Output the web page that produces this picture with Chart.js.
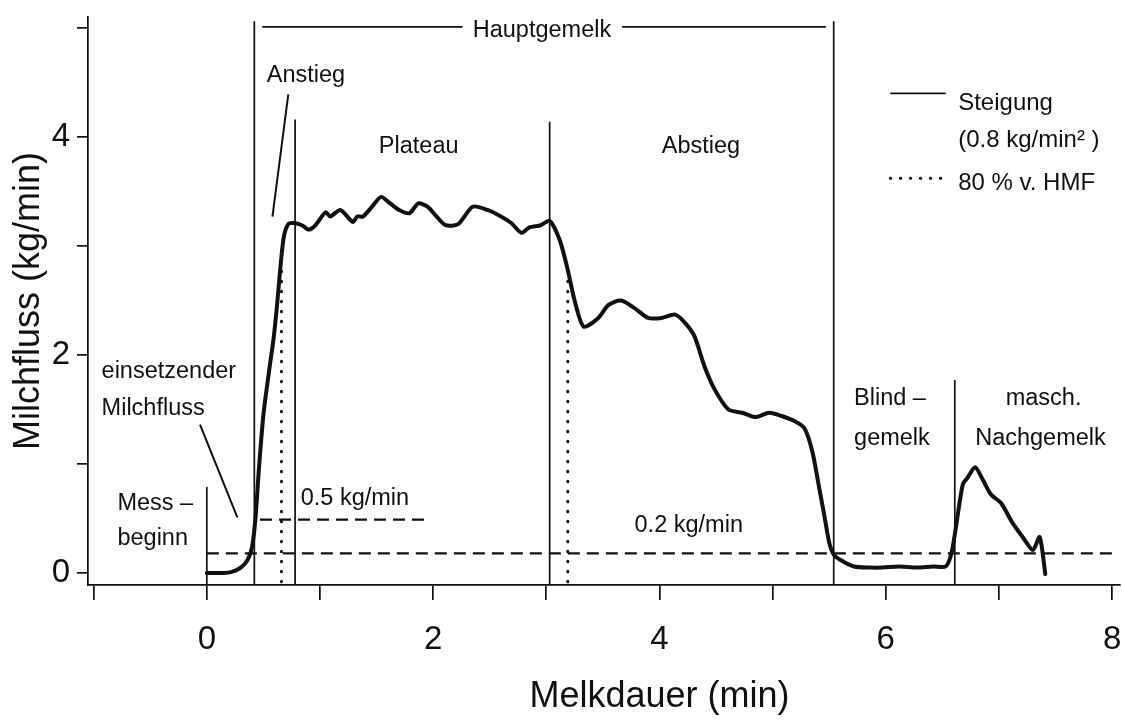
<!DOCTYPE html>
<html>
<head>
<meta charset="utf-8">
<title>Milchflusskurve</title>
<script src="https://cdn.jsdelivr.net/npm/chart.js@4.4.1/dist/chart.umd.min.js"></script>
<style>
  html, body { margin: 0; padding: 0; background: #fff; }
  #wrap { width: 1122px; height: 720px; }
</style>
</head>
<body>
<div id="wrap"><canvas id="flowChart" width="1122" height="720"></canvas></div>
<script>
// Milk flow curve (min, kg/min)
const flowTime = [0.00, 0.15, 0.22, 0.30, 0.36, 0.40, 0.43, 0.46, 0.50, 0.55, 0.59, 0.62, 0.65, 0.68, 0.72, 0.77,
  0.84, 0.90, 0.96, 1.05, 1.09, 1.18, 1.29, 1.33, 1.38, 1.46, 1.54, 1.62, 1.70, 1.79, 1.87, 1.95, 2.03, 2.11, 2.22,
  2.35, 2.48, 2.60, 2.69, 2.78, 2.85, 2.95, 3.03, 3.12, 3.19, 3.25, 3.33, 3.46, 3.55, 3.66, 3.78, 3.90, 4.02, 4.14,
  4.23, 4.31, 4.40, 4.49, 4.61, 4.73, 4.85, 4.97, 5.08, 5.20, 5.28, 5.35, 5.41, 5.46, 5.50, 5.54, 5.60, 5.72, 5.86,
  5.97, 6.12, 6.27, 6.42, 6.53, 6.58, 6.62, 6.68, 6.72, 6.79, 6.86, 6.93, 7.02, 7.12, 7.21, 7.30, 7.36, 7.41];
const flowRate = [0.00, 0.00, 0.01, 0.05, 0.12, 0.24, 0.50, 0.95, 1.45, 1.85, 2.15, 2.45, 2.80, 3.08, 3.20, 3.21,
  3.19, 3.15, 3.19, 3.31, 3.27, 3.33, 3.22, 3.27, 3.27, 3.36, 3.45, 3.39, 3.33, 3.30, 3.39, 3.36, 3.27, 3.19, 3.20,
  3.36, 3.33, 3.27, 3.21, 3.12, 3.17, 3.19, 3.23, 3.05, 2.78, 2.50, 2.26, 2.34, 2.46, 2.50, 2.43, 2.34, 2.34, 2.37,
  2.29, 2.17, 1.89, 1.68, 1.50, 1.47, 1.43, 1.47, 1.44, 1.39, 1.33, 1.12, 0.79, 0.51, 0.28, 0.17, 0.12, 0.06, 0.05,
  0.05, 0.06, 0.05, 0.06, 0.06, 0.18, 0.42, 0.81, 0.87, 0.97, 0.85, 0.72, 0.64, 0.46, 0.33, 0.21, 0.33, -0.01];

// tick labels
const xTickLabels = ['0', '2', '4', '6', '8'];
const yTickLabels = ['0', '2', '4'];

// phase boundaries (vertical lines) and their upper ends
const sectionX = [0, 0.42, 0.78, 3.03, 5.54, 6.61];
const sectionTop = [0.79, 5.06, 4.16, 4.14, 5.06, 1.77];

// threshold lines 0.5 and 0.2 kg/min (dashed)
const dashLevel = [0.49, 0.18];
const dashStart = [0.47, 0.00];
const dashEnd = [1.93, 8.00];

// 80 % of HMF (dotted)
const hmfX = [0.66, 3.19];
const hmfTop = [2.82, 2.78];

// bracket "Hauptgemelk"
const bracketLevel = 5.01;
const bracketStart = [0.49, 3.67];
const bracketEnd = [2.26, 5.47];

// pointer lines from labels
const leaderFromX = [0.72, -0.06];
const leaderFromY = [4.39, 1.36];
const leaderToX = [0.58, 0.27];
const leaderToY = [3.27, 0.51];

// key samples
const keyLineX = [6.04, 6.53];
const keyLineY = [4.40, 3.62];

// text labels (left edge, baseline)
const noteText = ['Hauptgemelk', 'Anstieg', 'Plateau', 'Abstieg', 'einsetzender', 'Milchfluss', 'Mess –', 'beginn',
  '0.5 kg/min', '0.2 kg/min', 'Blind –', 'gemelk', 'masch.', 'Nachgemelk'];
const noteX = [2.35, 0.53, 1.52, 4.02, -0.93, -0.93, -0.79, -0.79, 0.83, 3.78, 5.72, 5.72, 7.06, 6.79];
const noteY = [4.92, 4.50, 3.85, 3.85, 1.79, 1.45, 0.58, 0.26, 0.62, 0.38, 1.54, 1.17, 1.54, 1.17];
const keyText = ['Steigung', '(0.8 kg/min² )', '80 % v. HMF'];
const keyTextX = 6.64;
const keyTextY = [4.25, 3.91, 3.51];

const xTitle = 'Melkdauer (min)';
const yTitle = 'Milchfluss (kg/min)';

const ink = '#111111';
const fontFamily = '"Liberation Sans", Arial, Helvetica, sans-serif';
const yBottom = -0.11;

// helpers
function segments(list) {
    // list of [x1, y1, x2, y2], joined with gaps
    const pts = [];
    list.forEach((s, i) => {
        if (i > 0) pts.push({ x: s[0], y: null });
        pts.push({ x: s[0], y: s[1] }, { x: s[2], y: s[3] });
    });
    return pts;
}

function lineSet(points, width, dash, extra) {
    return Object.assign({
        data: points,
        showLine: true,
        borderColor: ink,
        borderWidth: width,
        borderDash: dash || [],
        pointRadius: 0,
        pointHoverRadius: 0,
        fill: false,
        tension: 0,
        spanGaps: false
    }, extra || {});
}

const flowPoints = flowTime.map((t, i) => ({ x: t, y: flowRate[i] }));
const sectionLines = segments(sectionX.map((x, i) => [x, yBottom, x, sectionTop[i]]));
const dashLines = segments(dashLevel.map((y, i) => [dashStart[i], y, dashEnd[i], y]));
const hmfLines = segments(hmfX.map((x, i) => [x, yBottom + 0.03, x, hmfTop[i]]));
const bracketLines = segments(bracketStart.map((x, i) => [x, bracketLevel, bracketEnd[i], bracketLevel]));
const leaderLines = segments(leaderFromX.map((x, i) => [x, leaderFromY[i], leaderToX[i], leaderToY[i]]));
const keySolid = segments([[keyLineX[0], keyLineY[0], keyLineX[1], keyLineY[0]]]);
const keyDotted = segments([[keyLineX[0], keyLineY[1], keyLineX[1], keyLineY[1]]]);

// draw labels and x title
const notesPlugin = {
    id: 'notes',
    afterDatasetsDraw(chart) {
        const { ctx, scales: { x, y } } = chart;
        ctx.save();
        ctx.fillStyle = ink;
        ctx.textBaseline = 'alphabetic';
        ctx.textAlign = 'left';
        ctx.font = '23.5px ' + fontFamily;
        noteText.forEach((t, i) => {
            ctx.fillText(t, x.getPixelForValue(noteX[i]), y.getPixelForValue(noteY[i]));
        });
        ctx.font = '24px ' + fontFamily;
        keyText.forEach((t, i) => {
            ctx.fillText(t, x.getPixelForValue(keyTextX), y.getPixelForValue(keyTextY[i]));
        });
        ctx.textAlign = 'center';
        ctx.font = '36px ' + fontFamily;
        ctx.fillText(xTitle, x.getPixelForValue(4), x.bottom - 13);
        ctx.restore();
    }
};

new Chart(document.getElementById('flowChart'), {
    type: 'scatter',
    data: {
        datasets: [
            lineSet(flowPoints, 4, [], { tension: 0.25, borderJoinStyle: 'round', borderCapStyle: 'round' }),
            lineSet(sectionLines, 1.7),
            lineSet(dashLines, 2.2, [12, 7]),
            lineSet(hmfLines, 3, [0.5, 9.5], { borderCapStyle: 'round' }),
            lineSet(bracketLines, 1.8),
            lineSet(leaderLines, 2),
            lineSet(keySolid, 1.8),
            lineSet(keyDotted, 3, [0.5, 9.5], { borderCapStyle: 'round' })
        ]
    },
    options: {
        responsive: false,
        animation: false,
        devicePixelRatio: 1,
        layout: { padding: { top: 17, right: 2, left: 0, bottom: 0 } },
        plugins: {
            legend: { display: false },
            tooltip: { enabled: false }
        },
        scales: {
            x: {
                type: 'linear',
                min: -1.05,
                max: 8.07,
                afterFit: scale => {
                    scale.height = 135;
                    scale.paddingLeft = 0;
                    scale.paddingRight = 0;
                },
                border: { display: true, color: ink, width: 1.7 },
                grid: { display: true, drawOnChartArea: false, drawTicks: true, tickLength: 15, color: ink, lineWidth: 1.7 },
                ticks: {
                    stepSize: 1,
                    includeBounds: false,
                    autoSkip: false,
                    maxRotation: 0,
                    padding: 20,
                    color: ink,
                    font: { family: fontFamily, size: 33 },
                    callback: v => (xTickLabels.includes(String(v)) ? String(v) : '')
                }
            },
            y: {
                type: 'linear',
                min: yBottom,
                max: 5.1,
                afterFit: scale => {
                    scale.width = 88;
                    scale.paddingTop = 0;
                    scale.paddingBottom = 0;
                },
                border: { display: true, color: ink, width: 1.7 },
                grid: { display: true, drawOnChartArea: false, drawTicks: true, tickLength: 11, color: ink, lineWidth: 1.7 },
                ticks: {
                    stepSize: 1,
                    includeBounds: false,
                    autoSkip: false,
                    padding: 7,
                    color: ink,
                    font: { family: fontFamily, size: 33 },
                    callback: v => (yTickLabels.includes(String(v)) ? String(v) : '')
                },
                title: {
                    display: true,
                    text: yTitle,
                    color: ink,
                    padding: { top: 7, bottom: 0 },
                    font: { family: fontFamily, size: 36 }
                }
            }
        }
    },
    plugins: [notesPlugin]
});
</script>
</body>
</html>
